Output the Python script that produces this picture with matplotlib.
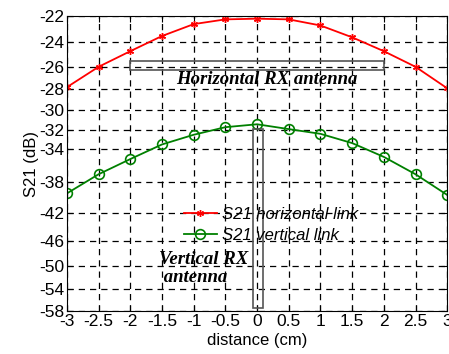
import numpy as np
import matplotlib
matplotlib.use("Agg")
import matplotlib.pyplot as plt
from matplotlib.patches import Rectangle

# distance (cm) and S21 (dB)
distance = [-3, -2.5, -2, -1.5, -1, -0.5, 0, 0.5, 1, 1.5, 2, 2.5, 3]
s21_horizontal = [-27.8, -26.0, -24.7, -23.5, -22.6, -22.25, -22.2, -22.25, -22.7, -23.6, -24.7, -26.0, -27.9]
s21_vertical = [-39.4, -37.0, -35.2, -33.55, -32.5, -31.7, -31.4, -31.9, -32.4, -33.4, -34.95, -37.0, -39.6]
yticks = [-22, -24, -26, -28, -30, -32, -34, -38, -42, -46, -50, -54, -58]
xticks = [-3, -2.5, -2, -1.5, -1, -0.5, 0, 0.5, 1, 1.5, 2, 2.5, 3]
xticklabels = ["-3", "-2.5", "-2", "-1.5", "-1", "-0.5", "0", "0.5", "1", "1.5", "2", "2.5", "3"]

plt.rcParams["font.family"] = ["Liberation Sans", "DejaVu Sans"]


def fwd(y):
    return -np.log(np.clip(np.abs(y), 1e-6, None))


def inv(v):
    return -np.exp(-v)


fig = plt.figure(figsize=(4.49, 3.54), dpi=100)
ax = fig.add_axes([0.149, 0.121, 0.847, 0.834])
ax.set_yscale("function", functions=(fwd, inv))

ax.plot(distance, s21_horizontal, "-", color="red", lw=1.3,
        marker=(6, 2, 0), ms=5, mew=1, label="S21 horizontal link")
ax.plot(distance, s21_vertical, "-", color="#008000", lw=1.3,
        marker="o", ms=7, mfc="none", mew=1.2, label="S21 vertical link")

ax.set_xlim(-3, 3)
ax.set_ylim(-58, -22)
ax.set_xticks(xticks)
ax.set_xticklabels(xticklabels)
ax.set_yticks(yticks)
ax.set_yticklabels([str(t) for t in yticks])
ax.yaxis.set_minor_locator(matplotlib.ticker.NullLocator())
ax.tick_params(direction="in", labelsize=12.5, top=True, right=True, length=4, pad=2)
ax.grid(True, color="black", linestyle=(0, (5, 4)), lw=0.9)

ax.set_xlabel("distance (cm)", fontsize=12, labelpad=3)
ax.set_ylabel("S21 (dB)", fontsize=12, labelpad=0)

# antenna outlines
ax.add_patch(Rectangle((-2.0, -26.3), 4.0, 0.75, fill=False,
                       edgecolor="#555555", lw=1.2, zorder=3))
ax.add_patch(Rectangle((-0.06, -57.4), 0.16, 25.5, fill=False,
                       edgecolor="#555555", lw=1.2, zorder=3))

serif = dict(family=["Liberation Serif", "DejaVu Serif"], fontweight="bold",
             fontstyle="italic", fontsize=13.5)
ax.text(0.15, -27.1, "Horizontal RX antenna", ha="center", va="center", **serif)
ax.text(-1.55, -50.4, "Vertical RX\n antenna", ha="left", va="center",
        linespacing=1.05, **serif)

leg = ax.legend(loc="upper left", bbox_to_anchor=(0.268, 0.405), frameon=False,
                handlelength=2.0, handletextpad=0.3, labelspacing=0.4,
                prop=dict(style="italic", size=12))

fig.savefig("out.png", dpi=100)
